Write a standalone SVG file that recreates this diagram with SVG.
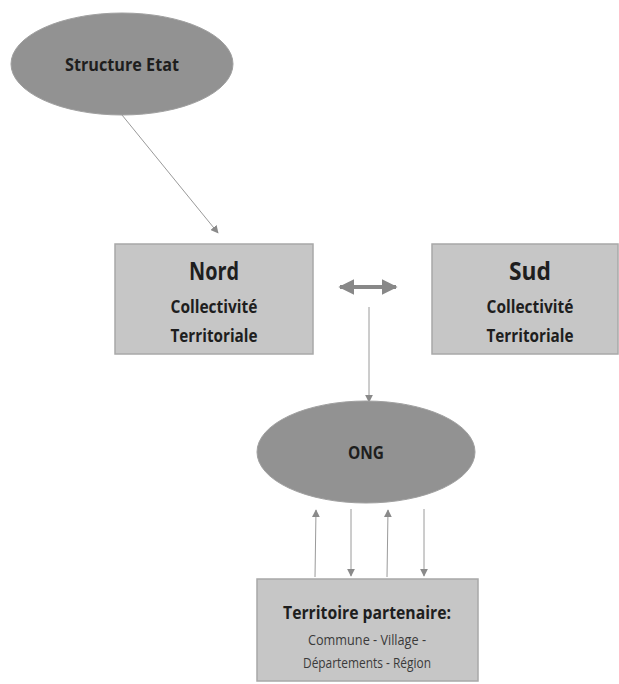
<svg xmlns="http://www.w3.org/2000/svg" width="619" height="684" viewBox="0 0 619 684">
<style>
.ell{fill:#929292;stroke:#a0a0a0;stroke-width:1}
.box{fill:#c6c6c6;stroke:#a8a8a8;stroke-width:1.5}
.t{font-family:"Open Sans","Liberation Sans",sans-serif;font-weight:bold;fill:#1e1e1e;text-anchor:middle}
.s{font-family:"Open Sans","Liberation Sans",sans-serif;fill:#3a3a3a;text-anchor:middle}
.ln{stroke:#9a9a9a;stroke-width:1;fill:none}
</style>
<defs>
<marker id="ah" viewBox="0 0 10 10" refX="9" refY="5" markerWidth="8" markerHeight="8" markerUnits="userSpaceOnUse" orient="auto">
<path d="M0,0 L10,5 L0,10 z" fill="#8a8a8a"/>
</marker>
<marker id="big" viewBox="0 0 10 10" refX="9" refY="5" markerWidth="4" markerHeight="4" orient="auto-start-reverse">
<path d="M0,0 L10,5 L0,10 z" fill="#888"/>
</marker>
</defs>
<g id="connectors">
<line class="ln" x1="122" y1="115" x2="218" y2="233" marker-end="url(#ah)"/>
<line x1="340" y1="287" x2="396" y2="287" stroke="#888" stroke-width="4" marker-start="url(#big)" marker-end="url(#big)"/>
<line class="ln" x1="369" y1="307" x2="369" y2="402" marker-end="url(#ah)"/>
<line class="ln" x1="315" y1="577" x2="316" y2="510" marker-end="url(#ah)"/>
<line class="ln" x1="351" y1="509" x2="351" y2="576" marker-end="url(#ah)"/>
<line class="ln" x1="387" y1="577" x2="388" y2="510" marker-end="url(#ah)"/>
<line class="ln" x1="424" y1="509" x2="424" y2="576" marker-end="url(#ah)"/>
</g>
<g id="structure-etat">
<ellipse class="ell" cx="122" cy="64" rx="111" ry="51"/>
<text class="t" x="122" y="71" font-size="18" textLength="114" lengthAdjust="spacingAndGlyphs">Structure  Etat</text>
</g>
<g id="nord">
<rect class="box" x="115" y="244" width="198" height="110"/>
<text class="t" x="214" y="280" font-size="25" fill="#333" textLength="50" lengthAdjust="spacingAndGlyphs">Nord</text>
<text class="t" x="214" y="313" font-size="18" textLength="87" lengthAdjust="spacingAndGlyphs">Collectivité</text>
<text class="t" x="214" y="342" font-size="18" textLength="87" lengthAdjust="spacingAndGlyphs">Territoriale</text>
</g>
<g id="sud">
<rect class="box" x="432" y="244" width="186" height="110"/>
<text class="t" x="530" y="280" font-size="25" fill="#333" textLength="42" lengthAdjust="spacingAndGlyphs">Sud</text>
<text class="t" x="530" y="313" font-size="18" textLength="87" lengthAdjust="spacingAndGlyphs">Collectivité</text>
<text class="t" x="530" y="342" font-size="18" textLength="87" lengthAdjust="spacingAndGlyphs">Territoriale</text>
</g>
<g id="ong">
<ellipse class="ell" cx="366" cy="452" rx="109" ry="51"/>
<text class="t" x="366" y="459" font-size="17" textLength="36" lengthAdjust="spacingAndGlyphs">ONG</text>
</g>
<g id="territoire">
<rect class="box" x="257" y="579" width="221" height="102"/>
<text class="t" x="367" y="619" font-size="17" textLength="168" lengthAdjust="spacingAndGlyphs">Territoire  partenaire:</text>
<text class="s" x="367" y="645" font-size="15" textLength="118" lengthAdjust="spacingAndGlyphs">Commune  -  Village  -</text>
<text class="s" x="367" y="668" font-size="15" textLength="128" lengthAdjust="spacingAndGlyphs">Départements  - Région</text>
</g>
</svg>
